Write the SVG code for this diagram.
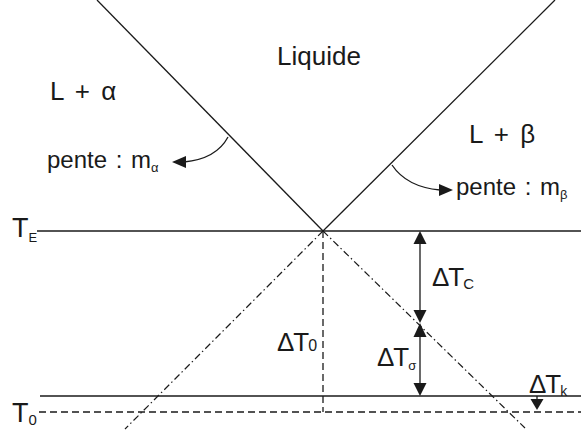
<svg xmlns="http://www.w3.org/2000/svg" width="581" height="431" viewBox="0 0 581 431">
<style>
.ln{stroke:#1a1a1a;stroke-width:1.3;fill:none}
.ds{stroke:#1a1a1a;stroke-width:1.3;fill:none;stroke-dasharray:7 4}
.dd{stroke:#1a1a1a;stroke-width:1.2;fill:none;stroke-dasharray:7 3 1.5 3}
.t{font-family:"Liberation Sans",Arial,sans-serif;fill:#1a1a1a}
.d{letter-spacing:-1px}
.ah{fill:#1a1a1a}
</style>
<rect width="581" height="431" fill="#fff"/>
<g id="connectors">
<line class="ln" x1="97" y1="0" x2="323" y2="231"/>
<line class="ln" x1="555" y1="0" x2="323" y2="231"/>
<line class="ln" x1="37" y1="231" x2="581" y2="231"/>
<line class="ln" x1="40" y1="396" x2="581" y2="396"/>
<line class="ds" x1="39" y1="412" x2="581" y2="412"/>
<line class="ds" x1="323" y1="231" x2="323" y2="412"/>
<line class="dd" x1="323" y1="231" x2="125" y2="429"/>
<line class="dd" x1="323" y1="231" x2="525" y2="428"/>
<path class="ln" d="M228,137 C220,152 205,160 184,162"/>
<polygon class="ah" points="172,162 186,156 186,168"/>
<path class="ln" d="M392,165 C402,180 418,188 440,190"/>
<polygon class="ah" points="453,190 439,184 439,196"/>
<line class="ln" x1="420" y1="240" x2="420" y2="314"/>
<polygon class="ah" points="420,231 413.5,244 426.5,244"/>
<polygon class="ah" points="420,323 413.5,310 426.5,310"/>
<line class="ln" x1="420" y1="333" x2="420" y2="386"/>
<polygon class="ah" points="420,323 413.5,337 426.5,337"/>
<polygon class="ah" points="420,396 413.5,383 426.5,383"/>
<line class="ln" x1="537" y1="396" x2="537" y2="400"/>
<polygon class="ah" points="537,410 530.5,399 543.5,399"/>
</g>
<g id="liquide"><text class="t" x="277" y="65" font-size="26">Liquide</text></g>
<g id="l-alpha"><text class="t" x="50" y="100" font-size="26" word-spacing="4">L + α</text></g>
<g id="l-beta"><text class="t" x="469" y="143" font-size="26" word-spacing="4">L + β</text></g>
<g id="pente-alpha"><text class="t" x="47" y="168" font-size="24" word-spacing="2">pente : m<tspan font-size="13" dy="4">α</tspan></text></g>
<g id="pente-beta"><text class="t" x="456" y="195" font-size="24" word-spacing="2">pente : m<tspan font-size="13" dy="4">β</tspan></text></g>
<g id="TE"><text class="t" x="12" y="237" font-size="27">T<tspan font-size="13" dy="5">E</tspan></text></g>
<g id="T0"><text class="t" x="12" y="422" font-size="27">T<tspan font-size="15" dy="3">0</tspan></text></g>
<g id="dTc"><text class="t d" x="432" y="286" font-size="26">ΔT<tspan font-size="15" dy="3">C</tspan></text></g>
<g id="dTsigma"><text class="t d" x="377" y="366" font-size="26">ΔT<tspan font-size="13" dy="4">σ</tspan></text></g>
<g id="dT0"><text class="t d" x="277" y="351" font-size="26">ΔT<tspan font-size="16" dy="0">0</tspan></text></g>
<g id="dTk"><text class="t d" x="529" y="393" font-size="26">ΔT<tspan font-size="14" dy="3">k</tspan></text></g>
</svg>
